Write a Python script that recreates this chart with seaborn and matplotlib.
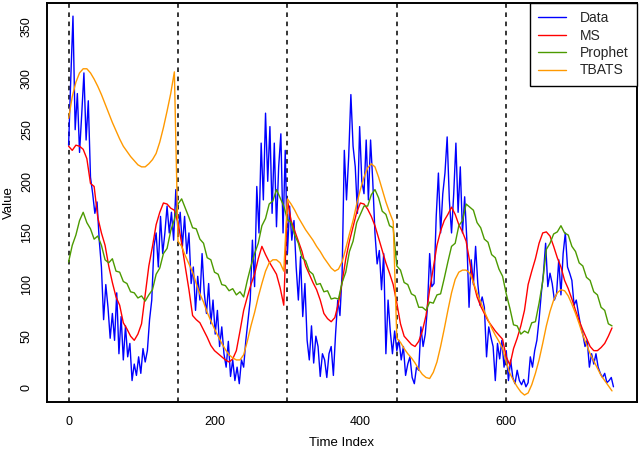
import numpy as np
import pandas as pd
import matplotlib
matplotlib.use("Agg")
import matplotlib.pyplot as plt
import seaborn as sns

# ==== DATA ====
# raw data, every 3rd time index
data_index = list(range(0, 750, 3))
data_vals = [
    235, 300, 360, 250, 285, 228, 265, 305, 240, 278,
    204, 188, 169, 180, 143, 117, 66, 100, 78, 48,
    72, 46, 92, 33, 69, 27, 60, 30, 43, 7,
    23, 12, 30, 14, 38, 25, 36, 66, 85, 137,
    150, 117, 166, 130, 150, 176, 150, 170, 143, 192,
    150, 170, 137, 166, 130, 150, 101, 117, 75, 108,
    85, 130, 92, 72, 101, 62, 85, 52, 75, 40,
    59, 33, 20, 45, 11, 27, 7, 20, 4, 27,
    20, 46, 66, 85, 143, 98, 195, 150, 237, 182,
    266, 200, 253, 169, 237, 156, 214, 246, 150, 230,
    130, 176, 143, 162, 117, 85, 127, 69, 101, 46,
    27, 60, 24, 50, 40, 11, 33, 27, 10, 33,
    40, 12, 52, 85, 70, 111, 230, 182, 224, 284,
    234, 214, 169, 253, 200, 188, 240, 182, 240, 200,
    150, 120, 133, 95, 130, 33, 85, 55, 33, 55,
    36, 46, 27, 40, 12, 23, 30, 10, 4, 20,
    17, 59, 40, 52, 78, 130, 98, 101, 166, 208,
    150, 188, 208, 243, 182, 150, 188, 237, 170, 214,
    150, 185, 143, 78, 124, 100, 137, 101, 80, 88,
    78, 30, 59, 49, 40, 7, 43, 28, 46, 20,
    36, 7, 27, 10, 4, 17, 7, 3, 8, 1,
    5, 30, 20, 36, 46, 66, 91, 111, 140, 98,
    111, 101, 85, 91, 124, 90, 130, 150, 117, 111,
    104, 80, 85, 72, 60, 52, 40, 46, 20, 33,
    23, 33, 20, 14, 10, 14, 5, 7, 10, 1,
]

# model fits, every 5th time index
model_index = list(range(0, 750, 5))
ms_vals = [
    234, 230, 235, 234, 231, 222, 198, 195, 165, 150,
    138, 118, 102, 88, 80, 63, 57, 50, 46, 52,
    62, 90, 118, 137, 158, 170, 179, 178, 174, 172,
    160, 140, 117, 95, 70, 66, 63, 56, 49, 41,
    36, 33, 30, 27, 25, 28, 36, 55, 75, 88,
    100, 110, 125, 137, 129, 122, 116, 110, 97, 80,
    182, 162, 152, 142, 132, 118, 110, 102, 95, 85,
    72, 67, 64, 68, 82, 102, 125, 142, 156, 170,
    179, 178, 173, 166, 157, 145, 133, 121, 111, 100,
    82, 62, 50, 46, 42, 40, 45, 55, 70, 95,
    116, 138, 152, 162, 168, 175, 168, 158, 151, 142,
    122, 102, 88, 79, 72, 65, 60, 55, 51, 47,
    30, 22, 38, 48, 60, 75, 100, 113, 125, 140,
    150, 151, 147, 137, 126, 117, 104, 96, 86, 75,
    65, 56, 48, 40, 36, 36, 39, 43, 50, 58,
]

prophet_vals = [
    122, 138, 148, 162, 170, 160, 154, 144, 147, 138,
    124, 121, 125, 113, 112, 103, 101, 93, 92, 87,
    89, 84, 90, 95, 110, 116, 130, 135, 152, 163,
    178, 183, 174, 165, 155, 154, 144, 140, 126, 124,
    112, 110, 100, 99, 94, 96, 90, 93, 88, 104,
    118, 130, 140, 157, 164, 178, 181, 192, 184, 176,
    163, 160, 148, 140, 126, 123, 113, 110, 100, 101,
    93, 94, 86, 87, 86, 102, 112, 132, 142, 160,
    168, 176, 176, 187, 192, 184, 171, 168, 157, 155,
    118, 114, 102, 100, 91, 89, 78, 78, 75, 83,
    82, 90, 91, 106, 122, 137, 140, 157, 162, 178,
    175, 172, 160, 155, 144, 141, 129, 126, 115, 108,
    91, 77, 61, 60, 52, 55, 53, 63, 64, 82,
    103, 134, 140, 149, 151, 157, 150, 148, 137, 132,
    121, 118, 107, 104, 93, 90, 78, 75, 62, 60,
]

tbats_vals = [
    261, 282, 296, 305, 309, 309, 305, 299, 292, 284,
    275, 266, 257, 249, 241, 234, 229, 224, 220, 216,
    214, 214, 217, 221, 227, 238, 252, 268, 285, 306,
    142, 137, 128, 120, 112, 101, 91, 83, 73, 65,
    57, 50, 43, 37, 32, 29, 27, 27, 32, 45,
    60, 73, 88, 101, 113, 121, 124, 124, 121, 113,
    183, 178, 172, 165, 159, 153, 148, 143, 137, 132,
    126, 121, 116, 113, 115, 122, 135, 149, 162, 178,
    192, 204, 213, 217, 214, 204, 192, 180, 170, 161,
    48, 44, 38, 33, 29, 24, 18, 13, 10, 9,
    15, 25, 40, 57, 75, 92, 105, 112, 114, 114,
    111, 102, 92, 83, 74, 66, 58, 51, 45, 38,
    25, 14, 7, 1, -4, -7, -5, 3, 14, 27,
    43, 60, 74, 85, 92, 95, 94, 89, 81, 72,
    62, 51, 42, 33, 26, 19, 12, 7, 2, -3,
]

series_names = ["Data", "MS", "Prophet", "TBATS"]
series_colors = ["#0000FF", "#FF0000", "#4C9A00", "#FF9900"]
refit_points = [0, 150, 300, 450, 600]

# ==== LONG FORMAT ====
frames = [pd.DataFrame({"Time Index": data_index, "Value": data_vals, "Series": "Data"})]
for name, vals in zip(series_names[1:], [ms_vals, prophet_vals, tbats_vals]):
    frames.append(pd.DataFrame({"Time Index": model_index, "Value": vals, "Series": name}))
df = pd.concat(frames, ignore_index=True)

# ==== PLOT ====
sns.set_theme(style="white")
plt.rcParams["font.family"] = ["Liberation Sans", "DejaVu Sans"]

fig = plt.figure(figsize=(6.4, 4.5), dpi=100)
ax = fig.add_axes([0.073, 0.107, 0.922, 0.887])

for p in refit_points:
    ax.axvline(p, color="black", linestyle=(0, (3, 3)), linewidth=1.1, zorder=1)

sns.lineplot(data=df, x="Time Index", y="Value", hue="Series",
             hue_order=series_names, palette=dict(zip(series_names, series_colors)),
             estimator=None, linewidth=1.0, ax=ax, zorder=2)

ax.set_xlim(-30, 779)
ax.set_ylim(-13.6, 373)
ax.set_xticks([0, 200, 400, 600])
ax.set_yticks(range(0, 351, 50))
ax.tick_params(axis="both", direction="in", length=4, width=1, color="black",
               labelsize=9, labelcolor="black", pad=10)
for lab in ax.get_yticklabels():
    lab.set_rotation(90)
    lab.set_va("center")
ax.set_xlabel("Time Index", fontsize=9.5, color="black", labelpad=7)
ax.set_ylabel("Value", fontsize=9.5, color="black", labelpad=4)
for s in ax.spines.values():
    s.set_color("black")
    s.set_linewidth(1.4)

sns.move_legend(ax, "upper right", title=None, frameon=True, fancybox=False,
                borderaxespad=0, borderpad=0.6, labelspacing=0.25,
                handlelength=2.0, handletextpad=1.0, fontsize=10)
leg = ax.get_legend()
leg.get_frame().set_edgecolor("black")
leg.get_frame().set_linewidth(1.0)
leg.get_frame().set_alpha(1)

fig.savefig("out.png", dpi=100)
